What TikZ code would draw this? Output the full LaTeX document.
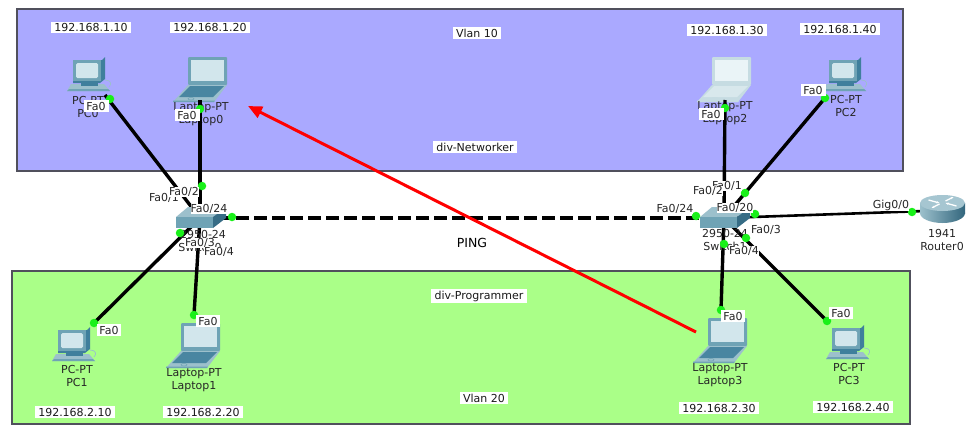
\documentclass[tikz,border=0pt]{standalone}
\usepackage{fontspec}
\setmainfont{DejaVu Sans}
\usetikzlibrary{arrows.meta}
\definecolor{zoneA}{HTML}{AAA9FF}
\definecolor{zoneB}{HTML}{AAFF88}
\definecolor{zoneEdge}{HTML}{50505C}
\definecolor{teal}{HTML}{6FA3B5}
\definecolor{tealD}{HTML}{3F7F9C}
\definecolor{tealL}{HTML}{9CC0CC}
\definecolor{scr}{HTML}{D2E6EC}
\definecolor{dot}{HTML}{19F019}
\definecolor{paleT}{HTML}{C6DCE2}
\definecolor{paleM}{HTML}{D8E8EC}
\definecolor{paleL}{HTML}{EAF4F7}
\tikzset{
  zone/.style={draw=zoneEdge,line width=1.3pt},
  txt/.style={font=\fontsize{11}{13}\selectfont,inner sep=0pt,text=black!85},
  tag/.style={font=\fontsize{11}{13}\selectfont,fill=white,inner sep=0pt,text=black!85},
  note/.style={font=\fontsize{11}{13}\selectfont,fill=white,inner ysep=1.5pt,inner xsep=3.5pt,text=black!90},
  port/.style={font=\fontsize{11}{13}\selectfont,fill=white,inner sep=0pt,minimum width=24pt,minimum height=12pt,text=black!85},
  link/.style={line width=3.4pt,black},
  greendot/.style={circle,fill=dot,inner sep=0pt,minimum size=8.5pt},
  pics/pcicon/.style args={#1/#2/#3/#4}{code={
    \fill[#4] (-2,24) -- (31,24) -- (37,31) -- (-6,31) -- cycle;
    \fill[#1] (-4,29) -- (35,29) -- (37,31) -- (-6,31) -- cycle;
    \draw[#4,line width=0.7pt] (32,20) .. controls (38,20) and (39,24) .. (36,27);
    \fill[#2] (8,20) -- (25,20) -- (25,26) -- (8,26) -- cycle;
    \fill[#2] (0,0) -- (29,0) -- (32,-3) -- (32,19) -- (27,23) -- (0,23) -- cycle;
    \fill[#1] (0,0) rectangle (28,21);
    \fill[#3,rounded corners=1.5pt] (3,3) rectangle (25,18);
  }},
  pics/lapicon/.style args={#1/#2/#3/#4}{code={
    \fill[#1,rounded corners=1pt] (0,0) rectangle (39,28);
    \fill[#3] (3,3) rectangle (36,24);
    \fill[#4] (0,28) -- (39,28) -- (26,45) -- (-15,45) -- cycle;
    \fill[#2] (2,29) -- (36,29) -- (25,40) -- (-9,40) -- cycle;
    \fill[#1] (-15,43.5) -- (27,43.5) -- (26,45) -- (-15,45) -- cycle;
    \draw[#1,line width=0.5pt] (3,41.7) ellipse (3 and 1.3);
  }},
  pics/swicon/.style={code={
    \fill[tealL] (0,0) -- (12,-10) -- (50,-10) -- (37,0) -- cycle;
    \fill[teal] (0,0) rectangle (37,11);
    \fill[tealD!85!black] (37,0) -- (50,-10) -- (50,1) -- (37,11) -- cycle;
  }},
  pics/rticon/.style={code={
    \shade[left color=tealL,right color=tealD!80!black] (-22.5,-6) rectangle (22.5,4);
    \shade[left color=tealL,right color=tealD!80!black] (0,4) ellipse (22.5 and 10);
    \fill[tealL!90!white] (0,-6) ellipse (22.5 and 8);
    \draw[white,line width=1.3pt,-{Stealth[length=3pt]}] (-14,-9) -- (-3,-6);
    \draw[white,line width=1.3pt,-{Stealth[length=3pt]}] (14,-3) -- (3,-6);
    \draw[white,line width=1.3pt,-{Stealth[length=3pt]}] (3,-8) -- (11,-12);
    \draw[white,line width=1.3pt,-{Stealth[length=3pt]}] (-3,-5) -- (-11,-1);
  }}
}
\begin{document}
\begin{tikzpicture}[x=1pt,y=-1pt]
\useasboundingbox (0,0) rectangle (979,439);
\fill[white] (0,0) rectangle (979,439);
\draw[zone,fill=zoneA] (17,9) rectangle (903,171);
\draw[zone,fill=zoneB] (12,271) rectangle (910,424);

% device anchors
\coordinate (pc0) at (105,95);
\coordinate (lap0) at (200,100);
\coordinate (lap2) at (725,100);
\coordinate (pc2) at (825,98);
\coordinate (sw0) at (200,218);
\coordinate (sw1) at (724,218);
\coordinate (rt) at (925,211);
\coordinate (pc1) at (94,323);
\coordinate (lap1) at (194,315);
\coordinate (lap3) at (721,310);
\coordinate (pc3) at (827,321);

% icons
\pic at (73,60) {pcicon={teal/tealD/scr/tealL}};
\pic at (188,57) {lapicon={teal/tealD!80!teal/scr/tealL}};
\pic at (712,57) {lapicon={paleT/paleM/paleL/paleT}};
\pic at (829,60) {pcicon={teal/tealD/scr/tealL}};
\pic at (58,330) {pcicon={teal/tealD/scr/tealL}};
\pic at (181,323) {lapicon={teal/tealD!80!teal/scr/tealL}};
\pic at (708,318) {lapicon={teal/tealD!80!teal/scr/tealL}};
\pic at (832,328) {pcicon={teal/tealD/scr/tealL}};

% device names
\node[txt] at (88,100) {PC-PT};
\node[txt] at (88,113) {PC0};
\node[txt] at (201,108) {Laptop-PT};
\node[txt] at (201,121) {Laptop0};
\node[txt] at (725,107) {Laptop-PT};
\node[txt] at (725,120) {Laptop2};
\node[txt] at (846,99) {PC-PT};
\node[txt] at (846,112) {PC2};
\node[txt] at (942,233) {1941};
\node[txt] at (942,246) {Router0};
\node[txt] at (77,369) {PC-PT};
\node[txt] at (77,382) {PC1};
\node[txt] at (194,374) {Laptop-PT};
\node[txt] at (194,387) {Laptop1};
\node[txt] at (720,369) {Laptop-PT};
\node[txt] at (720,382) {Laptop3};
\node[txt] at (849,367) {PC-PT};
\node[txt] at (849,380) {PC3};

% links
\draw[link] (pc0) -- (sw0);
\draw[link] (lap0) -- (sw0);
\draw[link] (sw0) -- (pc1);
\draw[link] (sw0) -- (lap1);
\draw[link] (lap2) -- (sw1);
\draw[link] (pc2) -- (sw1);
\draw[link] (sw1) -- (lap3);
\draw[link] (sw1) -- (pc3);
\draw[link,line width=2.6pt] (sw1) -- (rt);
\draw[link,dash pattern=on 13pt off 5pt] (sw0) -- (sw1);

% switches and router over the links
\pic at (176,217) {swicon};
\pic at (700,217) {swicon};
\pic at (942.5,209) {rticon};
\node[txt] at (203,234) {2950-24};
\node[txt] at (200,247) {Switch0};
\node[txt] at (725,233) {2950-24};
\node[txt] at (725,246) {Switch1};

% green link lights
\node[greendot] at (110,99) {};
\node[greendot] at (200,109) {};
\node[greendot] at (202,186) {};
\node[greendot] at (232,217) {};
\node[greendot] at (180,233) {};
\node[greendot] at (94,323) {};
\node[greendot] at (194,315) {};
\node[greendot] at (725,108) {};
\node[greendot] at (825,98) {};
\node[greendot] at (745,193) {};
\node[greendot] at (696,216) {};
\node[greendot] at (755,214) {};
\node[greendot] at (746,238) {};
\node[greendot] at (724,244) {};
\node[greendot] at (912,212) {};
\node[greendot] at (721,310) {};
\node[greendot] at (827,321) {};

% port labels
\node[port,minimum width=25pt] at (96,106) {Fa0};
\node[port,minimum width=25pt] at (187,115) {Fa0};
\node[port,minimum width=25pt] at (711,114) {Fa0};
\node[port,minimum width=25pt] at (813,90) {Fa0};
\node[port] at (109,330) {Fa0};
\node[port] at (208,321) {Fa0};
\node[port] at (733,316) {Fa0};
\node[port] at (841,313) {Fa0};
\node[tag] at (164,198) {Fa0/1};
\node[tag] at (184,192) {Fa0/2};
\node[tag] at (209,209) {Fa0/24};
\node[tag] at (200,243) {Fa0/3};
\node[tag] at (219,252) {Fa0/4};
\node[tag] at (727,186) {Fa0/1};
\node[tag] at (708,191) {Fa0/2};
\node[tag] at (675,209) {Fa0/24};
\node[tag] at (735,208) {Fa0/20};
\node[tag] at (766,230) {Fa0/3};
\node[tag] at (744,251) {Fa0/4};
\node[tag] at (891,205.5) {Gig0/0};

% annotations
\node[note] at (91,27.5) {192.168.1.10};
\node[note] at (210,27.5) {192.168.1.20};
\node[note] at (727,30) {192.168.1.30};
\node[note] at (840,29) {192.168.1.40};
\node[note] at (477,33) {Vlan 10};
\node[note] at (475,147) {div-Networker};
\node[font=\fontsize{12.5}{14}\selectfont,inner sep=0pt] at (472,243) {PING};
\node[note] at (479,296) {div-Programmer};
\node[note] at (484,398) {Vlan 20};
\node[note] at (75,412) {192.168.2.10};
\node[note] at (203,412) {192.168.2.20};
\node[note] at (719,408) {192.168.2.30};
\node[note] at (853,407) {192.168.2.40};

% ping arrow
\coordinate (pingA) at (696,332);
\coordinate (pingB) at (248,106);
\draw[red,line width=3pt,-{Triangle[length=14pt,width=12pt]}] (pingA) -- (pingB);
\end{tikzpicture}
\end{document}
